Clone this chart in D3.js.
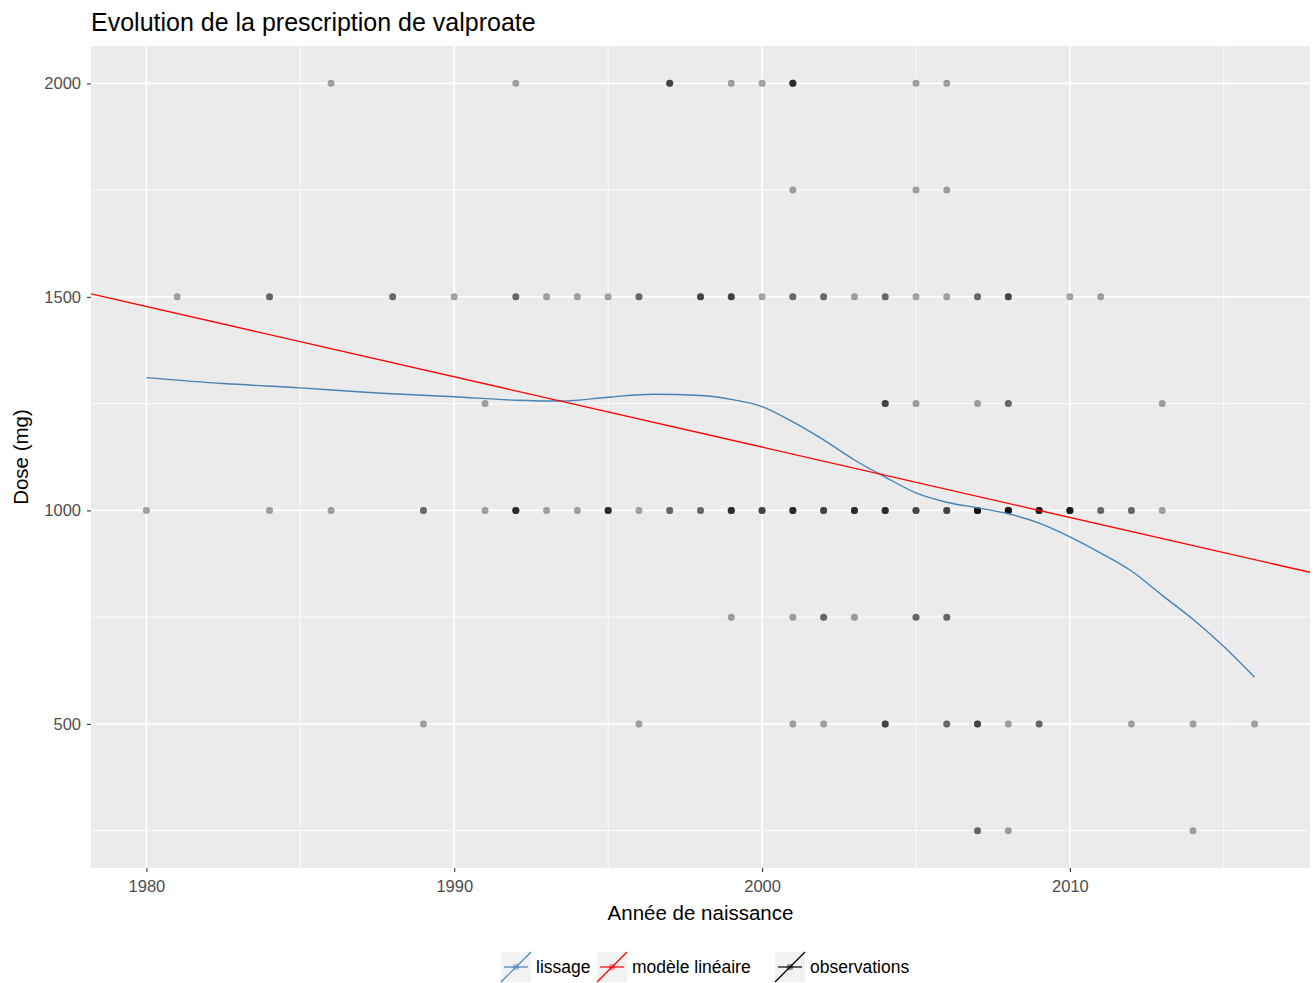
<!DOCTYPE html>
<html>
<head>
<meta charset="utf-8">
<script src="https://cdn.jsdelivr.net/npm/d3@7"></script>
<style>
  body { margin: 0; background: #fff; }
  text { font-family: "Liberation Sans", Arial, sans-serif; }
</style>
</head>
<body>
<div id="chart"></div>
<script>
// observations: birth year, dose (mg), number of overlapping patients
var obsYear = [
  1986, 1992, 1997, 1999, 2000, 2001, 2005, 2006,
  2001, 2005, 2006,
  1981, 1984, 1988, 1990, 1992, 1993, 1994, 1995, 1996, 1998, 1999, 2000, 2001, 2002, 2003, 2004, 2005, 2006, 2007, 2008, 2010, 2011,
  1991, 2004, 2005, 2007, 2008, 2013,
  1980, 1984, 1986, 1989, 1991, 1992, 1993, 1994, 1995, 1996, 1997, 1998, 1999, 2000, 2001, 2002, 2003, 2004, 2005, 2006, 2007, 2008, 2009, 2010, 2011, 2012, 2013,
  1999, 2001, 2002, 2003, 2005, 2006,
  1989, 1996, 2001, 2002, 2004, 2006, 2007, 2008, 2009, 2012, 2014, 2016,
  2007, 2008, 2014
];
var obsDose = [
  2000, 2000, 2000, 2000, 2000, 2000, 2000, 2000,
  1750, 1750, 1750,
  1500, 1500, 1500, 1500, 1500, 1500, 1500, 1500, 1500, 1500, 1500, 1500, 1500, 1500, 1500, 1500, 1500, 1500, 1500, 1500, 1500, 1500,
  1250, 1250, 1250, 1250, 1250, 1250,
  1000, 1000, 1000, 1000, 1000, 1000, 1000, 1000, 1000, 1000, 1000, 1000, 1000, 1000, 1000, 1000, 1000, 1000, 1000, 1000, 1000, 1000, 1000, 1000, 1000, 1000, 1000,
  750, 750, 750, 750, 750, 750,
  500, 500, 500, 500, 500, 500, 500, 500, 500, 500, 500, 500,
  250, 250, 250
];
var obsCount = [
  1, 1, 3, 1, 1, 4, 1, 1,
  1, 1, 1,
  1, 2, 2, 1, 2, 1, 1, 1, 2, 3, 3, 1, 2, 2, 1, 2, 1, 1, 2, 3, 1, 1,
  1, 3, 1, 1, 2, 1,
  1, 1, 1, 2, 1, 4, 1, 1, 4, 1, 2, 2, 4, 3, 4, 3, 4, 4, 3, 3, 6, 6, 5, 5, 2, 2, 1,
  1, 1, 2, 1, 2, 2,
  1, 1, 1, 1, 3, 2, 3, 1, 2, 1, 1, 1,
  2, 1, 1
];

// loess smoothing curve
var loessYear = [1980, 1982.5, 1985, 1987.5, 1990, 1992, 1993.5, 1995, 1996.5, 1998, 1999, 2000,
  2001, 2002, 2003, 2004, 2005, 2006, 2007, 2008, 2009, 2010, 2011, 2012, 2013, 2014, 2015, 2016];
var loessDose = [1311, 1297, 1287, 1275, 1266, 1258, 1256, 1265, 1272, 1269, 1260, 1243,
  1207, 1165, 1118, 1078, 1041, 1019, 1006, 992, 970, 938, 900, 858, 801, 745, 681, 609];

// linear model, ends of the panel
var lmYear = [1978.2, 2017.8];
var lmDose = [1507, 855];

var xTicks = [1980, 1990, 2000, 2010];
var xMinor = [1985, 1995, 2005, 2015];
var yTicks = [500, 1000, 1500, 2000];
var yMinor = [250, 750, 1250, 1750];

var legendLabels = ["lissage", "modèle linéaire", "observations"];
var legendColors = ["steelblue", "red", "black"];

// svg dimensions
var svgWidth = 1314;
var svgHeight = 983;
var margin = { top: 46, right: 4, bottom: 115, left: 91 };
var width = svgWidth - margin.left - margin.right;
var height = svgHeight - margin.top - margin.bottom;

var svg = d3.select("#chart")
  .append("svg")
  .attr("width", svgWidth)
  .attr("height", svgHeight);

var chartGroup = svg.append("g")
  .attr("transform", `translate(${margin.left}, ${margin.top})`);

var xScale = d3.scaleLinear().domain([1978.2, 2017.8]).range([0, width]);
var yScale = d3.scaleLinear().domain([162.5, 2087.5]).range([height, 0]);

// panel background
chartGroup.append("rect")
  .attr("width", width)
  .attr("height", height)
  .attr("fill", "#ebebeb");

// grid lines
chartGroup.selectAll(".xminor").data(xMinor).enter().append("line")
  .attr("x1", d => xScale(d)).attr("x2", d => xScale(d))
  .attr("y1", 0).attr("y2", height)
  .attr("stroke", "#fff").attr("stroke-width", 0.9);
chartGroup.selectAll(".yminor").data(yMinor).enter().append("line")
  .attr("y1", d => yScale(d)).attr("y2", d => yScale(d))
  .attr("x1", 0).attr("x2", width)
  .attr("stroke", "#fff").attr("stroke-width", 0.9);
chartGroup.selectAll(".xmajor").data(xTicks).enter().append("line")
  .attr("x1", d => xScale(d)).attr("x2", d => xScale(d))
  .attr("y1", 0).attr("y2", height)
  .attr("stroke", "#fff").attr("stroke-width", 1.8);
chartGroup.selectAll(".ymajor").data(yTicks).enter().append("line")
  .attr("y1", d => yScale(d)).attr("y2", d => yScale(d))
  .attr("x1", 0).attr("x2", width)
  .attr("stroke", "#fff").attr("stroke-width", 1.8);

// axes
var xAxis = d3.axisBottom(xScale).tickValues(xTicks).tickFormat(d3.format("d")).tickSize(4).tickPadding(8);
var yAxis = d3.axisLeft(yScale).tickValues(yTicks).tickFormat(d3.format("d")).tickSize(4).tickPadding(6);

var gx = chartGroup.append("g")
  .attr("transform", `translate(0, ${height})`)
  .call(xAxis);
var gy = chartGroup.append("g").call(yAxis);

[gx, gy].forEach(function(g) {
  g.select(".domain").remove();
  g.selectAll(".tick line").attr("stroke", "#333").attr("stroke-width", 1.1);
  g.selectAll(".tick text")
    .attr("fill", "#4d4d4d")
    .attr("font-size", 16.5)
    .attr("font-family", "Liberation Sans, Arial, sans-serif");
});

// clip to panel
svg.append("clipPath").attr("id", "panel")
  .append("rect").attr("width", width).attr("height", height);

var plotArea = chartGroup.append("g").attr("clip-path", "url(#panel)");

// observation points (one circle per patient, alpha builds up)
var obs = [];
obsYear.forEach(function(y, i) {
  for (var k = 0; k < obsCount[i]; k++) obs.push({ year: y, dose: obsDose[i] });
});

plotArea.selectAll("circle")
  .data(obs)
  .enter()
  .append("circle")
  .attr("cx", d => xScale(d.year))
  .attr("cy", d => yScale(d.dose))
  .attr("r", 3.5)
  .attr("fill", "black")
  .attr("opacity", 0.35);

// loess curve
var lineGen = d3.line()
  .x(d => xScale(d[0]))
  .y(d => yScale(d[1]))
  .curve(d3.curveMonotoneX);

plotArea.append("path")
  .datum(loessYear.map((y, i) => [y, loessDose[i]]))
  .attr("d", lineGen)
  .attr("fill", "none")
  .attr("stroke", "steelblue")
  .attr("stroke-width", 1.4);

// linear model
plotArea.append("path")
  .datum(lmYear.map((y, i) => [y, lmDose[i]]))
  .attr("d", d3.line().x(d => xScale(d[0])).y(d => yScale(d[1])))
  .attr("fill", "none")
  .attr("stroke", "red")
  .attr("stroke-width", 1.4);

// title
svg.append("text")
  .attr("x", margin.left)
  .attr("y", 31)
  .attr("font-size", 25)
  .attr("fill", "#000")
  .text("Evolution de la prescription de valproate");

// axis labels
svg.append("text")
  .attr("x", margin.left + width / 2)
  .attr("y", 920)
  .attr("text-anchor", "middle")
  .attr("font-size", 20.5)
  .text("Année de naissance");

svg.append("text")
  .attr("transform", `translate(28, ${margin.top + height / 2}) rotate(-90)`)
  .attr("text-anchor", "middle")
  .attr("font-size", 20.5)
  .text("Dose (mg)");

// legend
var keyX = [501, 597, 775];
var keySize = 30;
var keyTop = 952;

var legend = svg.selectAll(".legend")
  .data(legendLabels)
  .enter()
  .append("g")
  .attr("transform", (d, i) => `translate(${keyX[i]}, ${keyTop})`);

legend.append("rect")
  .attr("width", keySize).attr("height", keySize)
  .attr("fill", "#f2f2f2");

legend.append("line")
  .attr("x1", 0).attr("y1", keySize)
  .attr("x2", keySize).attr("y2", 0)
  .attr("stroke", (d, i) => legendColors[i]).attr("stroke-width", 1.2);

legend.append("line")
  .attr("x1", 3).attr("y1", keySize / 2)
  .attr("x2", keySize - 3).attr("y2", keySize / 2)
  .attr("stroke", (d, i) => legendColors[i]).attr("stroke-width", 1.2);

legend.append("circle")
  .attr("cx", keySize / 2).attr("cy", keySize / 2).attr("r", 3.3)
  .attr("fill", (d, i) => legendColors[i])
  .attr("opacity", 0.4);

legend.append("text")
  .attr("x", keySize + 5)
  .attr("y", keySize / 2 + 6)
  .attr("font-size", 17.5)
  .attr("fill", "#000")
  .text(d => d);
</script>
</body>
</html>
